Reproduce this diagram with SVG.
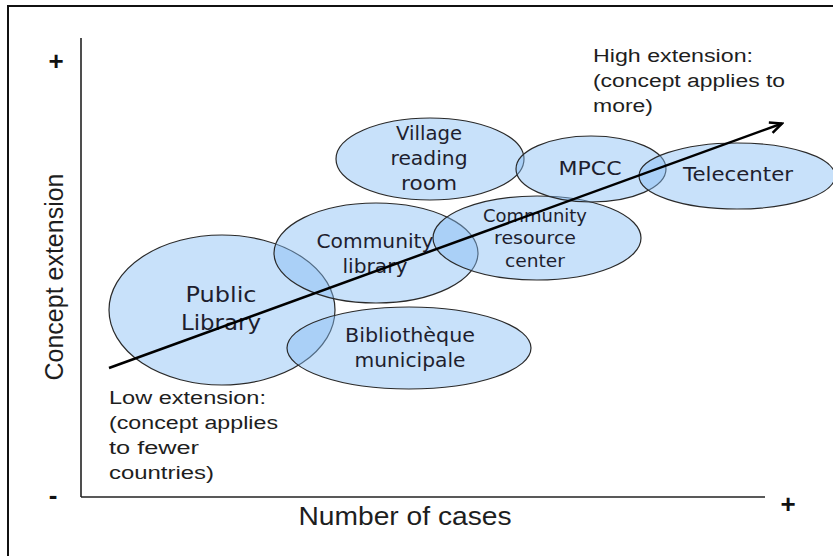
<svg xmlns="http://www.w3.org/2000/svg" width="833" height="556" viewBox="0 0 833 556">
<style>
.ell{fill:#85bcf4;fill-opacity:0.45;stroke:#2a2a2a;stroke-width:1.2}
.lbl{font-family:"DejaVu Sans","Liberation Sans",sans-serif;fill:#1e1e2e;text-anchor:middle}
.cal{font-family:"Liberation Sans",sans-serif;fill:#1e1e1e}
.axis{stroke:#222;stroke-width:1.6;fill:none}
.sign{font-family:"Liberation Sans",sans-serif;font-weight:bold;fill:#111;text-anchor:middle}
</style>
<defs>
<marker id="arr" markerUnits="userSpaceOnUse" markerWidth="16" markerHeight="14" viewBox="0 0 16 14" refX="14" refY="7" orient="auto">
<path d="M2,1.5 L14,7 L2,12.5" fill="none" stroke="#000" stroke-width="2.5" stroke-linejoin="miter"/>
</marker>
</defs>
<rect x="0" y="0" width="833" height="556" fill="#fff"/>
<rect x="8" y="6" width="900" height="600" fill="none" stroke="#111" stroke-width="2"/>

<g id="axes">
<line class="axis" x1="81" y1="38" x2="81" y2="497"/>
<line class="axis" x1="81" y1="497" x2="765" y2="497"/>
<text class="sign" x="56" y="70" font-size="26">+</text>
<text class="sign" x="788" y="513" font-size="26">+</text>
<text class="sign" x="53" y="504" font-size="26">-</text>
<text class="cal" x="0" y="0" font-size="26" text-anchor="middle" textLength="207" lengthAdjust="spacingAndGlyphs" transform="translate(63,277) rotate(-90)">Concept extension</text>
<text class="cal" x="405" y="525" font-size="26" text-anchor="middle" textLength="213" lengthAdjust="spacingAndGlyphs">Number of cases</text>
</g>

<g id="low-extension">
<text class="cal" font-size="18" x="109" y="404" textLength="157" lengthAdjust="spacingAndGlyphs">Low extension:</text>
<text class="cal" font-size="18" x="109" y="429" textLength="169" lengthAdjust="spacingAndGlyphs">(concept applies</text>
<text class="cal" font-size="18" x="109" y="454" textLength="90" lengthAdjust="spacingAndGlyphs">to fewer</text>
<text class="cal" font-size="18" x="109" y="479" textLength="105" lengthAdjust="spacingAndGlyphs">countries)</text>
</g>

<g id="high-extension">
<text class="cal" font-size="18" x="593" y="62" textLength="160" lengthAdjust="spacingAndGlyphs">High extension:</text>
<text class="cal" font-size="18" x="593" y="87" textLength="192" lengthAdjust="spacingAndGlyphs">(concept applies to</text>
<text class="cal" font-size="18" x="593" y="112" textLength="60" lengthAdjust="spacingAndGlyphs">more)</text>
</g>

<g id="public-library">
<ellipse class="ell" cx="222" cy="310" rx="113" ry="75"/>
<text class="lbl" font-size="22" x="221" y="302" textLength="71" lengthAdjust="spacingAndGlyphs">Public</text>
<text class="lbl" font-size="22" x="221" y="330" textLength="80" lengthAdjust="spacingAndGlyphs">Library</text>
</g>

<g id="community-library">
<ellipse class="ell" cx="376" cy="253" rx="102" ry="50"/>
<text class="lbl" font-size="20" x="375" y="248" textLength="117" lengthAdjust="spacingAndGlyphs">Community</text>
<text class="lbl" font-size="20" x="375" y="273" textLength="65" lengthAdjust="spacingAndGlyphs">library</text>
</g>

<g id="bibliotheque-municipale">
<ellipse class="ell" cx="409" cy="348" rx="122" ry="41"/>
<text class="lbl" font-size="20" x="410" y="342" textLength="130" lengthAdjust="spacingAndGlyphs">Bibliothèque</text>
<text class="lbl" font-size="20" x="410" y="367" textLength="111" lengthAdjust="spacingAndGlyphs">municipale</text>
</g>

<g id="village-reading-room">
<ellipse class="ell" cx="430" cy="159" rx="94" ry="41"/>
<text class="lbl" font-size="20" x="429" y="140" textLength="66" lengthAdjust="spacingAndGlyphs">Village</text>
<text class="lbl" font-size="20" x="429" y="165" textLength="77" lengthAdjust="spacingAndGlyphs">reading</text>
<text class="lbl" font-size="20" x="429" y="190" textLength="56" lengthAdjust="spacingAndGlyphs">room</text>
</g>

<g id="community-resource-center">
<ellipse class="ell" cx="537" cy="238" rx="104" ry="42"/>
<text class="lbl" font-size="17" x="535" y="222" textLength="104" lengthAdjust="spacingAndGlyphs">Community</text>
<text class="lbl" font-size="17" x="535" y="244" textLength="82" lengthAdjust="spacingAndGlyphs">resource</text>
<text class="lbl" font-size="17" x="535" y="267" textLength="60" lengthAdjust="spacingAndGlyphs">center</text>
</g>

<g id="mpcc">
<ellipse class="ell" cx="591" cy="169" rx="75" ry="33"/>
<text class="lbl" font-size="19" x="590" y="175" textLength="63" lengthAdjust="spacingAndGlyphs">MPCC</text>
</g>

<g id="telecenter">
<ellipse class="ell" cx="737" cy="176" rx="98" ry="33"/>
<text class="lbl" font-size="19" x="738" y="181" textLength="110" lengthAdjust="spacingAndGlyphs">Telecenter</text>
</g>

<g id="connectors">
<line x1="109" y1="368" x2="782" y2="123.5" stroke="#000" stroke-width="2.5" marker-end="url(#arr)"/>
</g>
</svg>
